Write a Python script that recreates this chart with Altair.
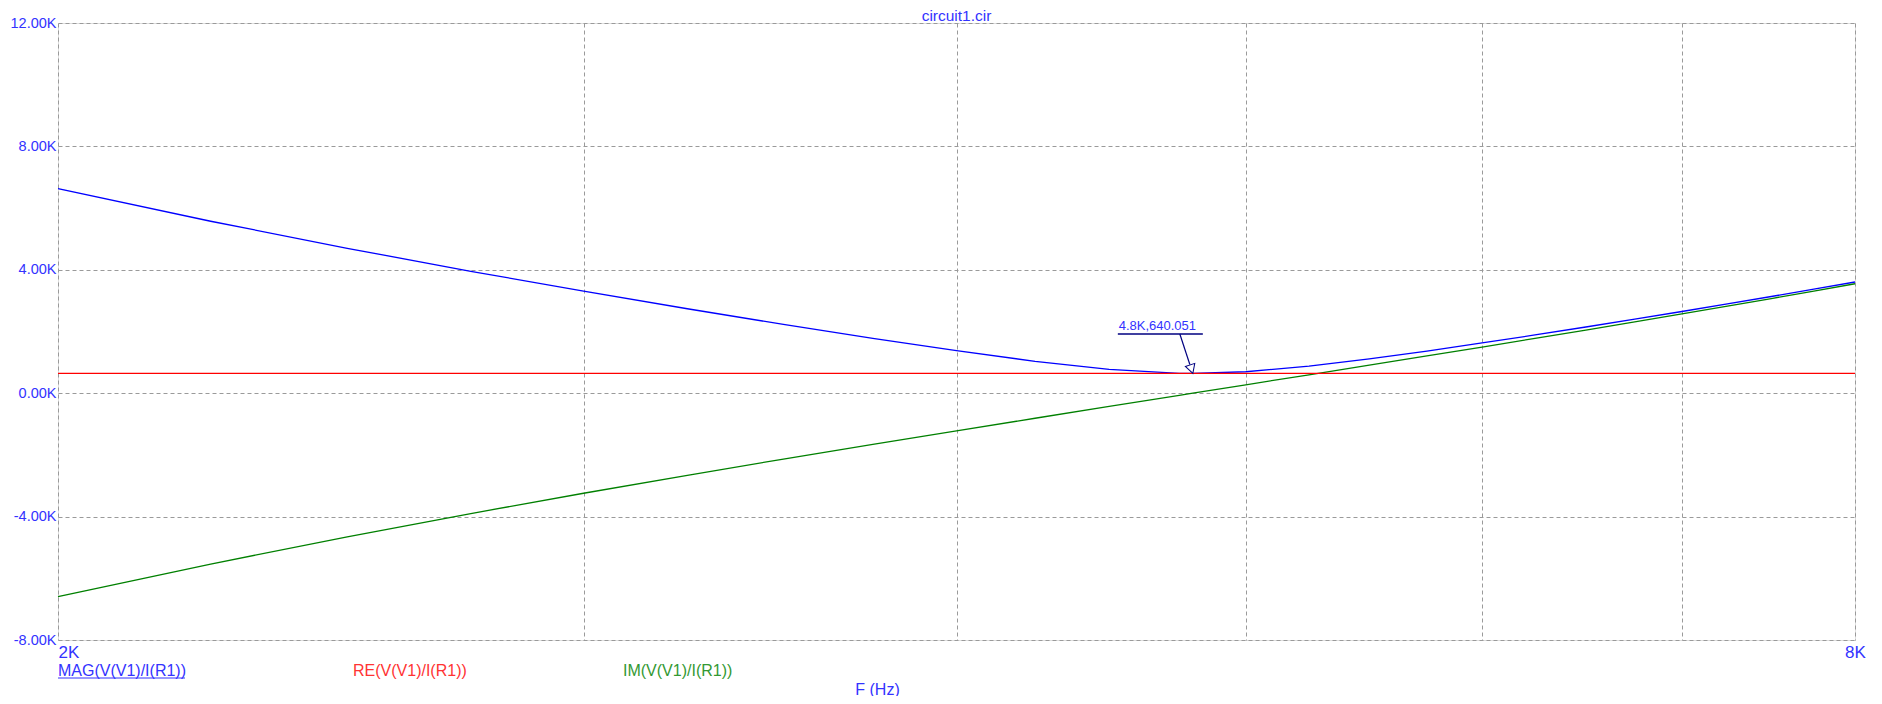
import altair as alt
import pandas as pd

# ---- data ----
freq = [2000, 2250, 2500, 2750, 3000, 3250, 3500, 3750, 4000, 4250, 4500, 4750, 4800,
        5000, 5250, 5500, 5750, 6000, 6250, 6500, 6750, 7000, 7250, 7500, 7750, 8000]
mag_vals = [6628, 5574, 4698, 3952, 3306, 2737, 2230, 1778, 1378, 1034, 771, 644, 640,
            695, 875, 1112, 1367, 1628, 1889, 2146, 2399, 2648, 2894, 3135, 3371, 3605]
re_vals = [640.05, 640.05, 640.05, 640.05, 640.05, 640.05, 640.05, 640.05, 640.05,
           640.05, 640.05, 640.05, 640.05, 640.05, 640.05, 640.05, 640.05, 640.05,
           640.05, 640.05, 640.05, 640.05, 640.05, 640.05, 640.05, 640.05]
im_vals = [-6597, -5537, -4654, -3900, -3243, -2661, -2136, -1659, -1220, -812, -430, -70, 0,
           272, 597, 909, 1208, 1497, 1777, 2048, 2312, 2570, 2822, 3069, 3310, 3548]

series_names = ["MAG(V(V1)/I(R1))", "RE(V(V1)/I(R1))", "IM(V(V1)/I(R1))"]
x_ticks = [2000, 3000, 4000, 5000, 6000, 7000, 8000]
y_ticks = [-8000, -4000, 0, 4000, 8000, 12000]
marker_f = [4800]
marker_v = [640.051]
marker_label = ["4.8K,640.051"]
chart_title = ["circuit1.cir"]
x_title = "F (Hz)"

FONT = "Arial, Liberation Sans"
BLUE_TXT = "#3333ff"
GRID = "#9a9a9a"

mag_df = pd.DataFrame({"f": freq, "v": mag_vals})
re_df = pd.DataFrame({"f": freq, "v": re_vals})
im_df = pd.DataFrame({"f": freq, "v": im_vals})
mk_df = pd.DataFrame({"f": marker_f, "v": marker_v, "label": marker_label})
title_df = pd.DataFrame({"t": chart_title})

x_enc = alt.X(
    "f:Q",
    scale=alt.Scale(type="log", domain=[2000, 8000], nice=False),
    axis=alt.Axis(
        values=x_ticks,
        labelExpr="datum.value == 2000 ? '2K' : (datum.value == 8000 ? '8K' : '')",
        labelAlign={"condition": {"test": "datum.value <= 2000", "value": "left"}, "value": "center"},
        labelFlush=False,
        labelOverlap=False,
        labelFont=FONT, labelFontSize=17, labelColor=BLUE_TXT, labelPadding=4,
        ticks=False, domain=False,
        grid=True, gridColor=GRID, gridDash=[4, 3], gridWidth=1,
        title=x_title, titleFont=FONT, titleFontSize=16, titleFontWeight="normal",
        titleColor=BLUE_TXT, titleX=819, titleY=49, titleAlign="center",
        titleBaseline="middle", titleAnchor="start",
    ),
)
y_enc = alt.Y(
    "v:Q",
    scale=alt.Scale(domain=[-8000, 12000], nice=False, zero=False),
    axis=alt.Axis(
        values=y_ticks,
        labelExpr="(datum.value < 0 ? '-' : '') + format(abs(datum.value) / 1000, '.2f') + 'K'",
        labelFlush=False,
        labelOverlap=False,
        labelFont=FONT, labelFontSize=14.5, labelColor=BLUE_TXT, labelPadding=2,
        ticks=False, domain=False,
        grid=True, gridColor=GRID, gridDash=[4, 3], gridWidth=1,
        title=None,
    ),
)

mag_line = alt.Chart(mag_df).mark_line(color="#0000ff", strokeWidth=1.3).encode(x=x_enc, y=y_enc)
im_line = alt.Chart(im_df).mark_line(color="#008000", strokeWidth=1.3).encode(x="f:Q", y="v:Q")
re_line = alt.Chart(re_df).mark_line(color="#ff0000", strokeWidth=1.3).encode(x="f:Q", y="v:Q")

mk_text = alt.Chart(mk_df).mark_text(
    font=FONT, fontSize=13, color=BLUE_TXT, align="center", baseline="middle",
    dx=-35.5, dy=-47.5,
).encode(x="f:Q", y="v:Q", text="label:N")
mk_under = alt.Chart(mk_df).mark_rule(
    color="#000080", strokeWidth=1.5, xOffset=-75, x2Offset=10, yOffset=-39.5, y2Offset=-39.5,
).encode(x="f:Q", y="v:Q", x2="f:Q", y2="v:Q")
mk_arrow = alt.Chart(mk_df).mark_rule(
    color="#000080", strokeWidth=1.2, xOffset=-13, yOffset=-39.5, x2Offset=-3, y2Offset=-9,
).encode(x="f:Q", y="v:Q", x2="f:Q", y2="v:Q")
mk_head = alt.Chart(mk_df).mark_point(
    shape="M0,0L-0.55,-1L0.55,-1Z", size=324, angle=342, filled=True,
    fill="white", stroke="#000080", strokeWidth=1, opacity=1,
).encode(x="f:Q", y="v:Q")

lab_df = pd.DataFrame({"name": series_names})


def label_layer(i, xpx, color):
    return alt.Chart(lab_df.iloc[[i]]).mark_text(
        font=FONT, fontSize=16, color=color, align="left", baseline="middle",
    ).encode(x=alt.value(xpx), y=alt.value(648), text="name:N")


lab_mag = label_layer(0, 0, BLUE_TXT)
lab_re = label_layer(1, 295, "#ff3333")
lab_im = label_layer(2, 565, "#339933")
mag_underline = alt.Chart(lab_df.iloc[[0]]).mark_rule(color=BLUE_TXT, strokeWidth=1).encode(
    x=alt.value(0), x2=alt.value(127), y=alt.value(655)
)
title_text = alt.Chart(title_df).mark_text(
    font=FONT, fontSize=15.5, color=BLUE_TXT, align="center", baseline="middle",
).encode(x=alt.value(898.5), y=alt.value(-7), text="t:N")

chart = alt.layer(
    mag_line, im_line, re_line,
    mk_under, mk_arrow, mk_head, mk_text,
    lab_mag, lab_re, lab_im, mag_underline, title_text,
).properties(
    width=1797,
    height=617,
    padding={"left": 50, "top": 15, "right": 16, "bottom": 56},
    autosize=alt.AutoSizeParams(type="none"),
).configure_view(
    stroke="#999999", strokeWidth=1.5
).configure(background="white")

chart.save("out.html", embed_options={"renderer": "svg", "actions": False})
